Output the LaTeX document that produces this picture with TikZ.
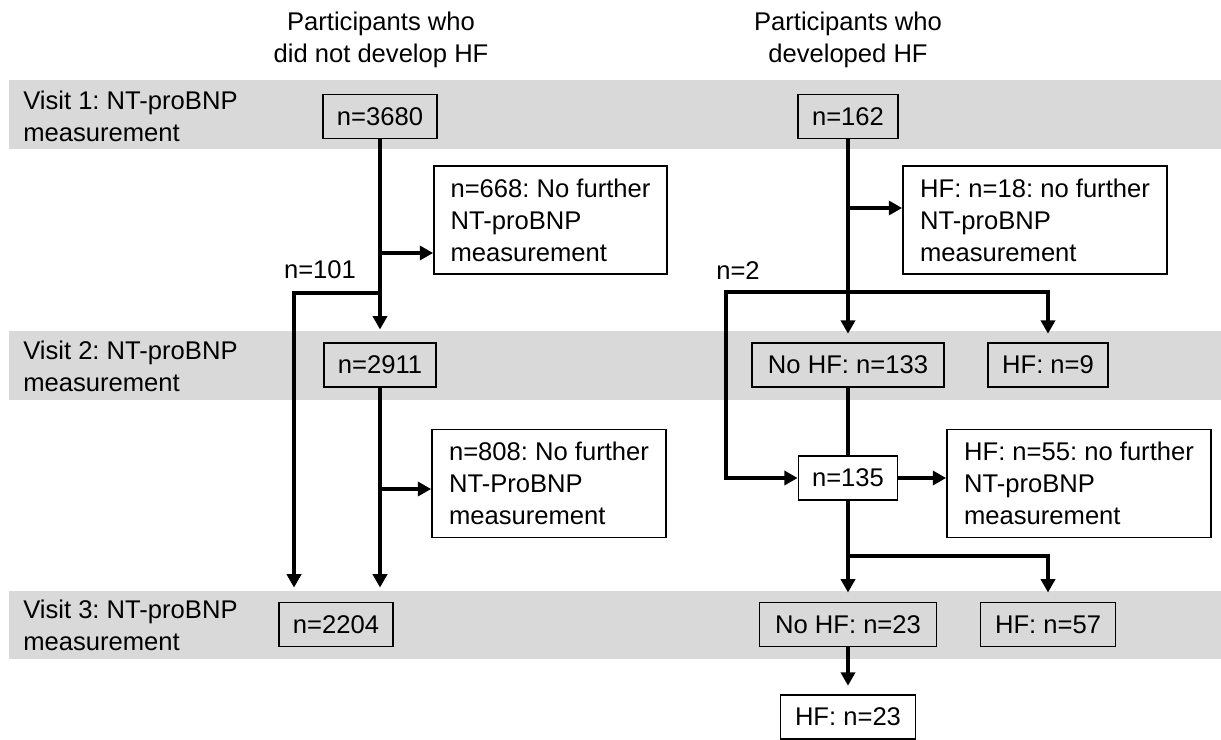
\documentclass[tikz,border=0pt]{standalone}
\usepackage{fontspec}
\setmainfont{Liberation Sans}
\usetikzlibrary{arrows.meta,calc}
\definecolor{bandgray}{HTML}{D9D9D9}
\def\pw{0.7113pt}
\frenchspacing
\tikzset{
  every node/.style={font=\fontsize{18.2}{22.8}\selectfont},
  cnt/.style={draw, line width=1.2pt, inner sep=0pt, minimum height=44*\pw, align=center},
  note/.style={draw, line width=1.2pt, inner xsep=0pt, inner ysep=0pt, minimum height=108*\pw, align=left},
  flow/.style={line width=2.9pt},
  arr/.style={flow, -{Triangle[length=9.5pt,width=10pt]}},
}

\begin{document}
\begin{tikzpicture}[x=0.025cm, y=-0.025cm]
			%%%%% BANDS %%%%%
			\useasboundingbox (0,0) rectangle (1221,740);
			\fill[bandgray] (9,80) rectangle (1221,149);
			\fill[bandgray] (9,331) rectangle (1221,400);
			\fill[bandgray] (9,591) rectangle (1221,659);
			
			\node[anchor=west, align=left, inner sep=0pt] (visA) at (23,116) {Visit 1: NT-proBNP\\measurement};
			\node[anchor=west, align=left, inner sep=0pt] (visB) at (23,366) {Visit 2: NT-proBNP\\measurement};
			\node[anchor=west, align=left, inner sep=0pt] (visC) at (23,625) {Visit 3: NT-proBNP\\measurement};
			
			\node[align=center] (hdL) at (381,40) {Participants who\\did not develop HF};
			\node[align=center] (hdR) at (848,40) {Participants who\\developed HF};
			
			%%%%% NO HF %%%%%
			\node[cnt, minimum width=114*\pw] (nA) at (380,116.5) {n=3680};
			\node[note, minimum width=233*\pw] (stopA) at (550.5,220) {n=668: No further\\NT-proBNP\\measurement};
			\node (lost) at (320,270) {n=101};
			\node[cnt, minimum width=112*\pw] (nB) at (380,365) {n=2911};
			\node[note, minimum width=234*\pw] (stopB) at (549,483.5) {n=808: No further\\NT-ProBNP\\measurement};
			\node[cnt, minimum width=114*\pw] (nC) at (336,624.5) {n=2204};
			
			\coordinate (jA) at (380,253);
			\coordinate (kA) at (380,293);
			\coordinate (jB) at (380,489);
			\draw[arr, shorten >=9pt] (nA.south) -- (nB.north);
			\draw[arr] (jA) -- (jA -| stopA.west);
			\draw[arr, shorten >=10pt] (kA) -| ($(nC.north)+(-42,0)$);
			\draw[arr, shorten >=10pt] (nB.south) -- (nB.south |- nC.north);
			\draw[arr] (jB) -- (jB -| stopB.west);
			
			%%%%% HF %%%%%
			\node[cnt, minimum width=100*\pw] (hA) at (848,116.5) {n=162};
			\node[note, minimum width=264*\pw] (hstopA) at (1035,220) {HF: n=18: no further\\NT-proBNP\\measurement};
			\node (back) at (738,271) {n=2};
			\node[cnt, minimum width=192*\pw] (hB) at (848,365) {No HF: n=133};
			\node[cnt, minimum width=120*\pw] (hfB) at (1048,365) {HF: n=9};
			\node[cnt, minimum width=99*\pw] (hM) at (848,478) {n=135};
			\node[note, minimum width=264*\pw] (hstopB) at (1079,483.5) {HF: n=55: no further\\NT-proBNP\\measurement};
			\node[cnt, minimum width=177*\pw] (hC) at (848,624.5) {No HF: n=23};
			\node[cnt, minimum width=135*\pw] (hfC) at (1048,624.5) {HF: n=57};
			\node[cnt, minimum width=135*\pw] (hD) at (848,717) {HF: n=23};
			
			\coordinate (jC) at (848,208);
			\coordinate (kC) at (848,292);
			\coordinate (lC) at (726,292);
			\coordinate (kD) at (848,556);
			\draw[arr, shorten >=6pt] (hA.south) -- (hB.north);
			\draw[arr] (jC) -- (jC -| hstopA.west);
			\draw[arr, shorten >=6pt] (kC) -| (hfB.north);
			\draw[arr] (kC) -- (lC) |- (hM.west);
			\draw[flow] (hB.south) -- (hM.north);
			\draw[arr] (hM.east) -- (hM.east -| hstopB.west);
			\draw[arr, shorten >=6.5pt] (hM.south) -- (hC.north);
			\draw[arr, shorten >=6.5pt] (kD) -| (hfC.north);
			\draw[arr, shorten >=6pt] (hC.south) -- (hD.north);
			
\end{tikzpicture}
\end{document}
